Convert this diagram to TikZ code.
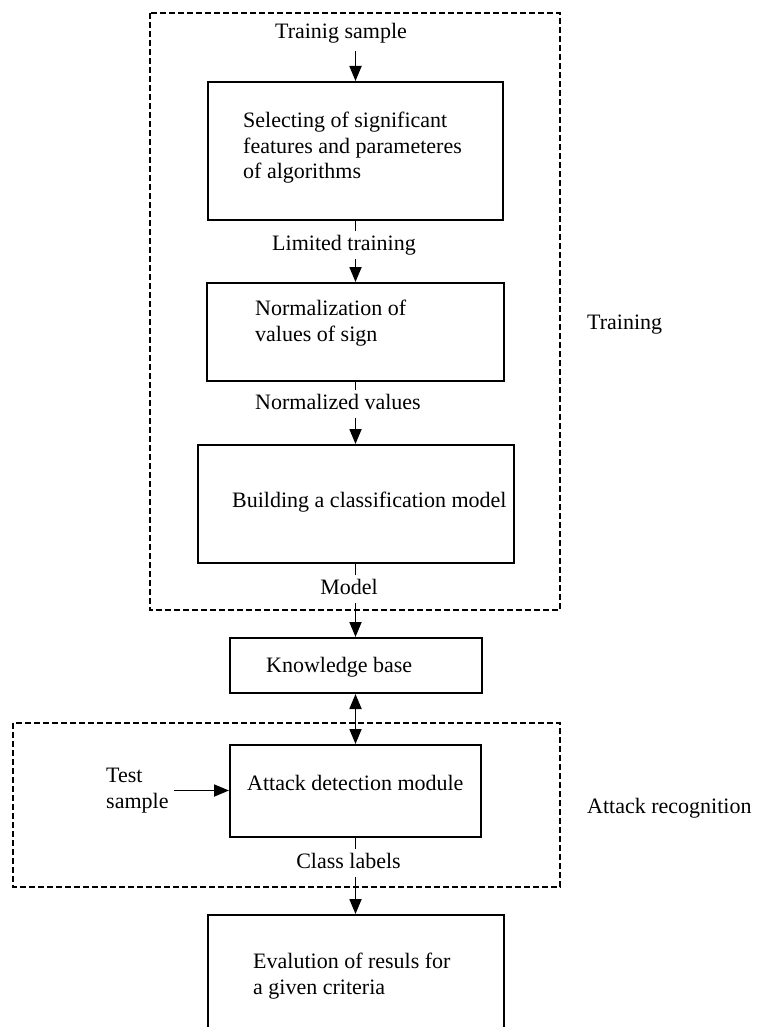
\documentclass[tikz,border=0pt]{standalone}
\usepackage{fontspec}
\setmainfont{Liberation Serif}
\usetikzlibrary{arrows.meta, positioning}

\begin{document}
\begin{tikzpicture}[
  x=1pt, y=-1pt,
  font=\fontsize{22}{25.5}\selectfont,
  blk/.style={rectangle, draw, line width=2pt, inner sep=0pt},
  txt/.style={anchor=west, align=left, inner sep=0pt},
  ttl/.style={inner sep=8pt},
  lbl/.style={fill=white, inner sep=4pt, text height=15pt, text depth=5pt},
  grp/.style={draw, line width=1.7pt, dash pattern=on 6pt off 3pt},
  arr/.style={-{Triangle[length=15pt,width=12pt]}, line width=1.8pt},
  dblarr/.style={{Triangle[length=15pt,width=12pt]}-{Triangle[length=15pt,width=12pt]}, line width=1.8pt}
]
\clip (0,0) rectangle (768,1027);

% Dashed groups
\draw[grp] (150,13) rectangle (560,610);
\draw[grp] (13,723) rectangle (560,887);

% Boxes
\node[blk, minimum width=295pt, minimum height=138pt] (sel)  at (355.5,151)   {};
\node[blk, minimum width=297pt, minimum height=98pt]  (norm) at (355.5,332)   {};
\node[blk, minimum width=316pt, minimum height=118pt] (bldg) at (355.5,504)   {};
\node[blk, minimum width=252pt, minimum height=55pt]  (kb)   at (355.5,665.5) {};
\node[blk, minimum width=251pt, minimum height=92pt]  (att)  at (355.5,791)   {};
\node[blk, minimum width=296pt, minimum height=130pt] (eval) at (355.5,980)   {};

% Box texts
\node[txt] (seltxt)  at (243,148) {Selecting of significant\\features and parameteres\\of algorithms};
\node[txt] (normtxt) at (255,323) {Normalization of\\values of sign};
\node[txt] (bldgtxt) at (232,502) {Building a classification model};
\node[txt] (kbtxt)   at (266,667) {Knowledge base};
\node[txt] (atttxt)  at (247,783) {Attack detection module};
\node[txt] (evaltxt) at (253,976) {Evalution of resuls for\\a given criteria};

% Outer texts
\node[ttl] (tsample)  at (341,33)   {Trainig sample};
\node[txt] (trainlbl) at (587,325)  {Training};
\node[txt] (attlbl)   at (587,808)  {Attack recognition};
\node[txt] (test)     at (106,790.5) {Test\\sample};

% Flow
\draw[arr] (tsample.south -| sel.north) -- (sel.north);
\draw[arr] (sel) -- (norm);
\draw[arr] (norm) -- (bldg);
\draw[arr] (bldg) -- (kb);
\draw[dblarr] (kb) -- (att);
\draw[arr] (att) -- (eval);
\draw[arr] ([xshift=5pt]test.east) -- (test.east -| att.west);

% Connector labels
\node[lbl] (limtr)  at (344,245)   {Limited training};
\node[lbl] (normv)  at (338,404)   {Normalized values};
\node[lbl] (model)  at (349,589)   {Model};
\node[lbl] (classl) at (348.5,863) {Class labels};

\end{tikzpicture}
\end{document}
